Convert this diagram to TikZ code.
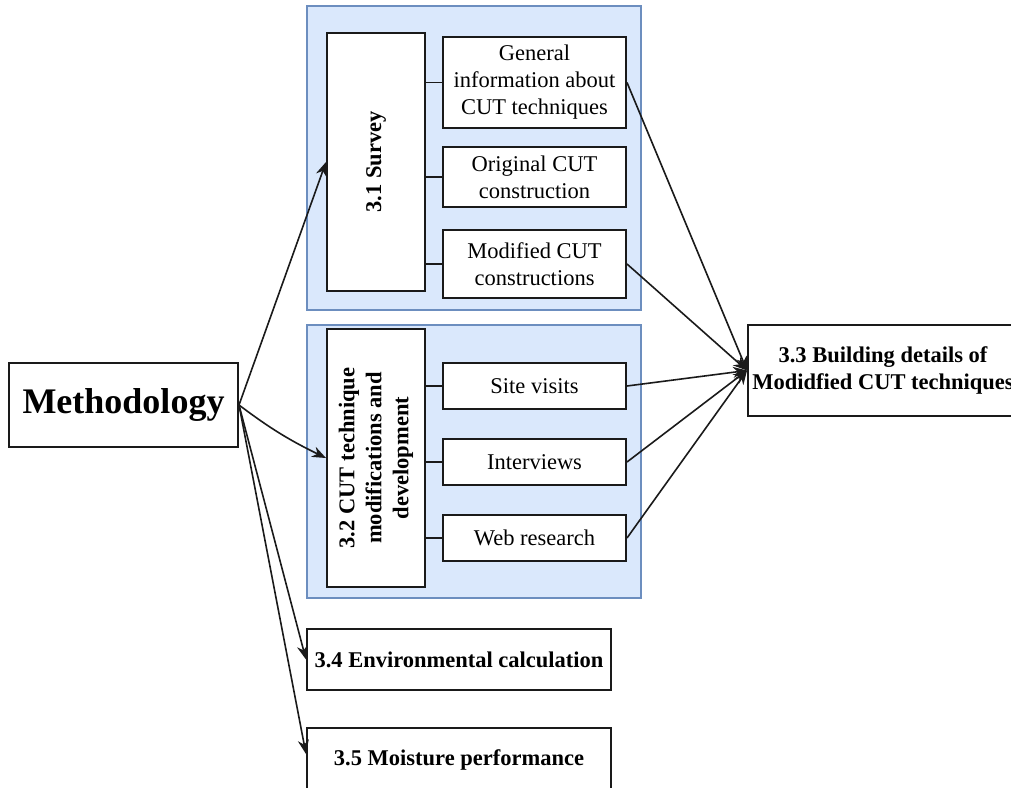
\documentclass[tikz,border=0pt]{standalone}
\usepackage{fontspec}
\setmainfont{Liberation Serif}
\usetikzlibrary{arrows.meta}
\definecolor{grpfill}{HTML}{DAE8FC}
\definecolor{grpline}{HTML}{6C8EBF}
\definecolor{boxline}{HTML}{1A1A1A}
\tikzset{
  grp/.style={draw=grpline, fill=grpfill, line width=1.5pt, minimum width=334pt, inner sep=0pt},
  box/.style={draw=boxline, fill=white, line width=2pt, inner sep=0pt, align=center,
    font=\fontsize{22.5}{27}\selectfont},
  link/.style={draw=boxline, line width=1.6pt},
  arr/.style={link, -{Stealth[length=14pt,width=11pt]}}
}

\begin{document}
\begin{tikzpicture}[x=1pt, y=-1pt]
\useasboundingbox (0,0) rectangle (1011,787);
\node[grp, minimum height=304pt] (grpA) at (474,158) {};
\node[grp, minimum height=273pt] (grpB) at (474,461.5) {};
\node[box, minimum width=229pt, minimum height=84pt, font=\fontsize{36}{40}\selectfont\bfseries] (meth) at (123.5,405) {Methodology};
\node[box, minimum width=98pt, minimum height=258pt] (surv) at (376,162) {\rotatebox{90}{\textbf{3.1 Survey}}};
\node[box, minimum width=183pt, minimum height=91pt] (gen) at (534.5,82.5) {General\\information about\\CUT techniques};
\node[box, minimum width=183pt, minimum height=60pt] (orig) at (534.5,177) {Original CUT\\construction};
\node[box, minimum width=183pt, minimum height=68pt] (modc) at (534.5,264) {Modified CUT\\constructions};
\node[box, minimum width=98pt, minimum height=258pt] (cutm) at (376,458) {\rotatebox{90}{\bfseries\begin{tabular}{@{}c@{}}3.2 CUT technique\\modifications and\\development\end{tabular}}};
\node[box, minimum width=183pt, minimum height=46pt] (site) at (534.5,386) {Site visits};
\node[box, minimum width=183pt, minimum height=46pt] (intv) at (534.5,462) {Interviews};
\node[box, minimum width=183pt, minimum height=46pt] (webr) at (534.5,538) {Web research};
\node[box, minimum width=270pt, minimum height=91pt, font=\fontsize{22.5}{27}\selectfont\bfseries] (bldg) at (883,370.5) {3.3 Building details of\\Modidfied CUT techniques};
\node[box, minimum width=304pt, minimum height=61pt, font=\fontsize{22.5}{27}\selectfont\bfseries] (envc) at (459,659.5) {3.4 Environmental calculation};
\node[box, minimum width=304pt, minimum height=64pt, font=\fontsize{22.5}{27}\selectfont\bfseries] (moist) at (459,760) {3.5 Moisture performance};

\foreach \n in {gen,orig,modc} \draw[link] (surv.east |- \n.west) -- (\n.west);
\foreach \n in {site,intv,webr} \draw[link] (cutm.east |- \n.west) -- (\n.west);
\draw[arr] (meth.east) -- (surv.west);
\draw[arr] (meth.east) to[out=-37,in=154] (cutm.west);
\draw[arr] (meth.east) -- (envc.west);
\draw[arr] (meth.east) -- ([yshift=6pt]moist.west);
\foreach \n in {gen,modc,site,intv,webr} \draw[arr] (\n.east) -- (bldg.west);
\end{tikzpicture}
\end{document}
